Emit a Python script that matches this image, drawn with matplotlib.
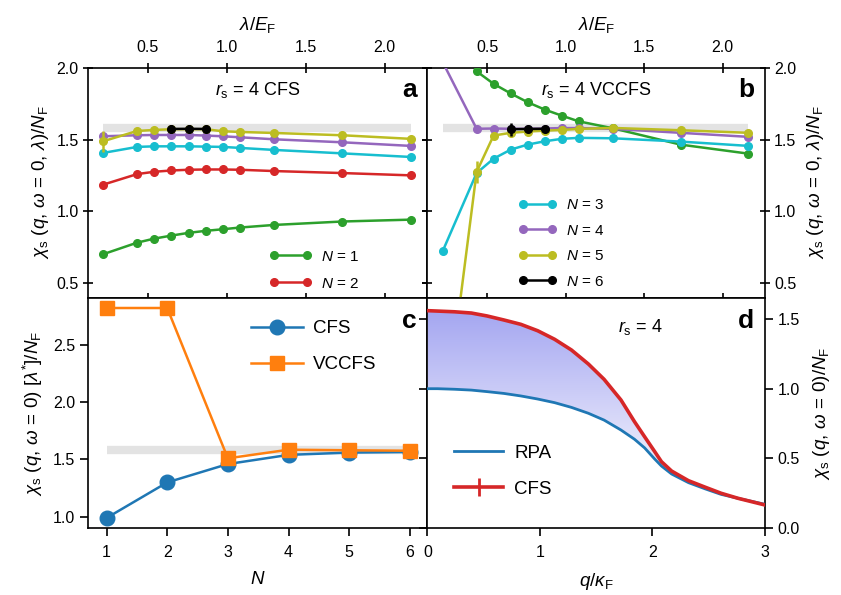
import numpy as np
import matplotlib
matplotlib.use('Agg')
import matplotlib.pyplot as plt
from matplotlib.colors import LinearSegmentedColormap

plt.rcParams['font.family'] = ['Liberation Sans', 'DejaVu Sans']
plt.rcParams['mathtext.fontset'] = 'custom'
plt.rcParams['mathtext.rm'] = 'Liberation Sans'
plt.rcParams['mathtext.it'] = 'Liberation Sans:italic'
plt.rcParams['mathtext.bf'] = 'Liberation Sans:bold'
plt.rcParams['mathtext.sf'] = 'Liberation Sans'
plt.rcParams['font.size'] = 11.5
plt.rcParams['xtick.labelsize'] = 11.5
plt.rcParams['ytick.labelsize'] = 11.5
plt.rcParams['axes.labelsize'] = 13.5

# ---------------- data ----------------
lam = [0.2165, 0.433, 0.541, 0.650, 0.758, 0.866, 0.974, 1.083, 1.299, 1.732, 2.165]

# panel a: CFS, r_s = 4
cfs_n1 = [0.702, 0.783, 0.811, 0.832, 0.851, 0.865, 0.876, 0.888, 0.906, 0.930, 0.943]
cfs_n2 = [1.186, 1.260, 1.276, 1.285, 1.290, 1.292, 1.292, 1.290, 1.281, 1.267, 1.251]
cfs_n3 = [1.407, 1.449, 1.453, 1.453, 1.453, 1.451, 1.449, 1.442, 1.428, 1.404, 1.379]
cfs_n4 = [1.523, 1.530, 1.532, 1.532, 1.532, 1.528, 1.523, 1.516, 1.502, 1.481, 1.456]
cfs_n5 = [1.488, 1.560, 1.567, 1.572, 1.572, 1.572, 1.558, 1.553, 1.546, 1.530, 1.505]
cfs_n5_err = [0.075, 0.0, 0.0, 0.0, 0.0, 0.0, 0.0, 0.0, 0.0, 0.0, 0.0]
cfs_n6_lam = [0.650, 0.758, 0.866]
cfs_n6 = [1.574, 1.575, 1.574]
cfs_n6_err = [0.025, 0.025, 0.02]

# panel b: VCCFS, r_s = 4
vc_n1_lam = [0.433, 0.541, 0.650, 0.758, 0.866, 0.974, 1.083, 1.299, 1.732, 2.165]
vc_n1 = [1.975, 1.888, 1.821, 1.760, 1.709, 1.667, 1.627, 1.579, 1.465, 1.402]
vc_n3 = [0.723, 1.267, 1.367, 1.430, 1.465, 1.488, 1.505, 1.512, 1.509, 1.486, 1.456]
vc_n4 = [2.040, 1.575, 1.577, 1.575, 1.575, 1.577, 1.580, 1.580, 1.575, 1.547, 1.519]
vc_n5 = [-0.580, 1.275, 1.528, 1.547, 1.556, 1.562, 1.567, 1.574, 1.581, 1.565, 1.547]
vc_n5_err = [0.0, 0.075, 0.015, 0.0, 0.0, 0.0, 0.0, 0.0, 0.0, 0.0, 0.0]
vc_n6_lam = [0.650, 0.758, 0.866]
vc_n6 = [1.572, 1.574, 1.575]
vc_n6_err = [0.045, 0.02, 0.012]

ref_level = 1.58

# panel c: chi at lambda*
N_vals = [1, 2, 3, 4, 5, 6]
c_cfs = [0.99, 1.30, 1.46, 1.54, 1.56, 1.565]
c_vccfs = [2.82, 2.82, 1.51, 1.585, 1.58, 1.576]

# panel d: chi(q) at r_s = 4
q_vals = [0.0, 0.09, 0.24, 0.39, 0.53, 0.68, 0.83, 0.98, 1.13, 1.28, 1.43, 1.57,
          1.72, 1.84, 1.93, 2.02, 2.08, 2.17, 2.32, 2.47, 2.61, 2.76, 3.0]
d_rpa = [1.0, 1.0, 0.996, 0.99, 0.979, 0.966, 0.948, 0.926, 0.90, 0.866, 0.824, 0.775,
         0.704, 0.638, 0.576, 0.496, 0.446, 0.389, 0.327, 0.282, 0.243, 0.215, 0.172]
d_cfs = [1.559, 1.556, 1.551, 1.542, 1.521, 1.492, 1.461, 1.415, 1.354, 1.277, 1.177, 1.067,
         0.919, 0.764, 0.656, 0.549, 0.477, 0.41, 0.341, 0.294, 0.251, 0.215, 0.167]

# ---------------- colours ----------------
C_GREEN = '#2ca02c'
C_RED = '#d62728'
C_CYAN = '#17becf'
C_PURPLE = '#9467bd'
C_OLIVE = '#bcbd22'
C_BLUE = '#1f77b4'
C_ORANGE = '#ff7f0e'
C_GRAY = '#e3e3e3'

fig = plt.figure(figsize=(8.41, 5.95), dpi=100)
L, M, R = 0.1043, 0.5083, 0.9096
T, Mid, B = 0.8862, 0.4997, 0.1121
axa = fig.add_axes([L, Mid, M - L, T - Mid])
axb = fig.add_axes([M, Mid, R - M, T - Mid])
axc = fig.add_axes([L, B, M - L, Mid - B])
axd = fig.add_axes([M, B, R - M, Mid - B])

for ax in (axa, axb, axc, axd):
    for s in ax.spines.values():
        s.set_linewidth(1.2)

ylab_ab = r'$\chi_{\mathrm{s}}\ (q,\,\omega\,=\,0,\,\lambda)/N_{\mathrm{F}}$'
lw = 1.8
ms = 5.5
LABEL_FS = 19


def line(ax, x, y, color, err=None, z=3):
    if err is None:
        h = ax.plot(x, y, '-o', color=color, lw=lw, ms=ms, zorder=z)[0]
        return h
    c = ax.errorbar(x, y, yerr=err, fmt='-o', color=color, lw=lw, ms=ms,
                    elinewidth=1.8, capsize=0, zorder=z)
    return c.lines[0]


# ---------------- panel a ----------------
axa.plot([lam[0], lam[-1]], [ref_level, ref_level], color=C_GRAY, lw=6, zorder=1,
         solid_capstyle='butt')
h1 = line(axa, lam, cfs_n1, C_GREEN)
h2 = line(axa, lam, cfs_n2, C_RED)
line(axa, lam, cfs_n3, C_CYAN)
line(axa, lam, cfs_n4, C_PURPLE)
line(axa, lam, cfs_n5, C_OLIVE, err=cfs_n5_err)
line(axa, cfs_n6_lam, cfs_n6, 'black', err=cfs_n6_err, z=4)
axa.set_xlim(0.12, 2.27)
axa.set_ylim(0.4, 2.0)
axa.xaxis.tick_top()
axa.xaxis.set_label_position('top')
axa.set_xticks([0.5, 1.0, 1.5, 2.0])
axa.set_yticks([0.5, 1.0, 1.5, 2.0])
axa.tick_params(axis='x', which='both', top=True, bottom=True, direction='inout',
                length=7, width=1.2, pad=6)
axa.tick_params(axis='y', which='both', left=True, right=True, direction='inout',
                length=7, width=1.2, pad=3)
axa.set_xlabel(r'$\lambda/E_{\mathrm{F}}$', labelpad=7)
axa.set_ylabel(ylab_ab, labelpad=4)
axa.text(0.5, 0.905, r'$r_{\mathrm{s}}$ = 4 CFS', transform=axa.transAxes,
         ha='center', va='center', fontsize=13)
axa.text(0.968, 0.905, 'a', transform=axa.transAxes, ha='right', va='center',
         fontsize=LABEL_FS, fontweight='bold')
axa.legend([h1, h2], [r'$N$ = 1', r'$N$ = 2'], loc='lower right',
           bbox_to_anchor=(0.84, -0.03),
           frameon=False, numpoints=2, handlelength=2.8, labelspacing=0.85,
           handletextpad=0.6, fontsize=11)

# ---------------- panel b ----------------
axb.plot([lam[0], lam[-1]], [ref_level, ref_level], color=C_GRAY, lw=6, zorder=1,
         solid_capstyle='butt')
line(axb, vc_n1_lam, vc_n1, C_GREEN)
h3 = line(axb, lam, vc_n3, C_CYAN)
h4 = line(axb, lam, vc_n4, C_PURPLE)
h5 = line(axb, lam, vc_n5, C_OLIVE, err=vc_n5_err)
h6 = line(axb, vc_n6_lam, vc_n6, 'black', err=vc_n6_err, z=4)
axb.set_xlim(0.12, 2.27)
axb.set_ylim(0.4, 2.0)
axb.xaxis.tick_top()
axb.xaxis.set_label_position('top')
axb.yaxis.tick_right()
axb.yaxis.set_label_position('right')
axb.set_xticks([0.5, 1.0, 1.5, 2.0])
axb.set_yticks([0.5, 1.0, 1.5, 2.0])
axb.tick_params(axis='x', which='both', top=True, bottom=True, direction='inout',
                length=7, width=1.2, pad=6)
axb.tick_params(axis='y', which='both', left=True, right=True, direction='inout',
                length=7, width=1.2, pad=3)
axb.set_xlabel(r'$\lambda/E_{\mathrm{F}}$', labelpad=7)
axb.set_ylabel(ylab_ab, labelpad=6)
axb.text(0.5, 0.905, r'$r_{\mathrm{s}}$ = 4 VCCFS', transform=axb.transAxes,
         ha='center', va='center', fontsize=13)
axb.text(0.968, 0.905, 'b', transform=axb.transAxes, ha='right', va='center',
         fontsize=LABEL_FS, fontweight='bold')
axb.legend([h3, h4, h5, h6], [r'$N$ = 3', r'$N$ = 4', r'$N$ = 5', r'$N$ = 6'],
           loc='lower left', bbox_to_anchor=(0.23, -0.02),
           frameon=False, numpoints=2, handlelength=2.5, labelspacing=0.75,
           handletextpad=0.6, fontsize=11)

# ---------------- panel c ----------------
axc.plot([1, 6], [ref_level, ref_level], color=C_GRAY, lw=6, zorder=1,
         solid_capstyle='butt')
hc1, = axc.plot(N_vals, c_cfs, '-o', color=C_BLUE, lw=lw, ms=10.5, zorder=3)
hc2, = axc.plot(N_vals, c_vccfs, '-s', color=C_ORANGE, lw=lw, ms=10.5, zorder=3)
axc.set_xlim(0.69, 6.29)
axc.set_ylim(0.9, 2.91)
axc.set_xticks(N_vals)
axc.set_yticks([1.0, 1.5, 2.0, 2.5])
axc.tick_params(axis='both', which='both', direction='out', length=6, width=1.2)
axc.tick_params(axis='x', pad=6)
axc.tick_params(axis='y', pad=3)
axc.set_xlabel(r'$N$', labelpad=8)
axc.set_ylabel(r'$\chi_{\mathrm{s}}\ (q,\,\omega\,=\,0)\ [\lambda^{*}]/N_{\mathrm{F}}$', labelpad=6)
axc.text(0.968, 0.9, 'c', transform=axc.transAxes, ha='right', va='center',
         fontsize=LABEL_FS, fontweight='bold')
axc.legend([hc1, hc2], ['CFS', 'VCCFS'], loc='upper left', bbox_to_anchor=(0.43, 0.975),
           frameon=False, numpoints=1, handlelength=2.8, labelspacing=1.0,
           handletextpad=0.5, fontsize=13.5)

# ---------------- panel d ----------------
q = np.array(q_vals)
rpa = np.array(d_rpa)
cfs = np.array(d_cfs)
poly = axd.fill_between(q, rpa, cfs, facecolor='none', edgecolor='none')
cmap = LinearSegmentedColormap.from_list('grad', ['#eeeefc', '#a4a6f1'])
grad = np.linspace(0, 1, 256).reshape(-1, 1)
im = axd.imshow(grad, extent=[0, 3, 0.45, 1.56], origin='lower', aspect='auto',
                cmap=cmap, zorder=1)
im.set_clip_path(poly.get_paths()[0], transform=axd.transData)
hd1, = axd.plot(q, rpa, color=C_BLUE, lw=2.0, zorder=3)
hd2 = axd.errorbar(q, cfs, yerr=np.zeros_like(cfs), color=C_RED, lw=2.6,
                   elinewidth=2.0, capsize=0, zorder=4)
axd.set_xlim(0, 3)
axd.set_ylim(0, 1.652)
axd.set_xticks([0, 1, 2, 3])
axd.set_yticks([0.0, 0.5, 1.0, 1.5])
axd.yaxis.tick_right()
axd.yaxis.set_label_position('right')
axd.tick_params(axis='both', which='both', direction='out', length=6, width=1.2)
axd.tick_params(axis='y', left=True, right=True, pad=3)
axd.tick_params(axis='x', pad=6)
axd.set_xlabel(r'$q/\kappa_{\mathrm{F}}$', labelpad=8)
axd.set_ylabel(r'$\chi_{\mathrm{s}}\ (q,\,\omega\,=\,0)/N_{\mathrm{F}}$', labelpad=8)
axd.text(0.63, 0.875, r'$r_{\mathrm{s}}$ = 4', transform=axd.transAxes,
         ha='center', va='center', fontsize=13)
axd.text(0.968, 0.9, 'd', transform=axd.transAxes, ha='right', va='center',
         fontsize=LABEL_FS, fontweight='bold')
axd.legend([hd1, hd2], ['RPA', 'CFS'], loc='lower left', bbox_to_anchor=(0.03, 0.06),
           frameon=False, handlelength=2.6, labelspacing=1.0,
           handletextpad=0.6, fontsize=13.5)

fig.savefig('out.png', dpi=100)
